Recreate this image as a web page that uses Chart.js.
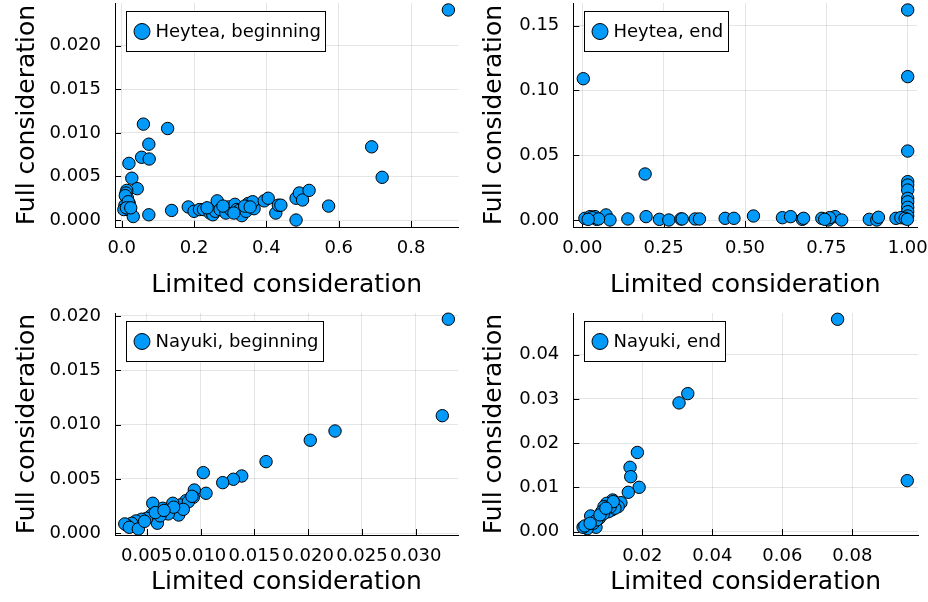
<!DOCTYPE html>
<html>
<head>
<meta charset="utf-8">
<script src="https://cdn.jsdelivr.net/npm/chart.js@4.4.1/dist/chart.umd.min.js"></script>
<style>
html, body { margin: 0; padding: 0; background: #fff; }
#wrap { position: relative; width: 928px; height: 602px; }
#wrap canvas { position: absolute; }
</style>
</head>
<body>
<div id="wrap">
  <canvas id="c1" width="464" height="301" style="left:0;top:0"></canvas>
  <canvas id="c2" width="464" height="301" style="left:464px;top:0"></canvas>
  <canvas id="c3" width="464" height="301" style="left:0;top:301px"></canvas>
  <canvas id="c4" width="464" height="301" style="left:464px;top:301px"></canvas>
</div>
<script>
// Heytea, beginning
const heyteaBeginX = [0.903, 0.060, 0.127, 0.075, 0.055, 0.076, 0.020, 0.028, 0.691, 0.720,
  0.043, 0.014, 0.012, 0.016, 0.009, 0.021, 0.006, 0.023, 0.032, 0.075,
  0.138, 0.184, 0.200, 0.215, 0.226, 0.244, 0.252, 0.259, 0.264, 0.272,
  0.288, 0.295, 0.301, 0.313, 0.318, 0.325, 0.332, 0.344, 0.350, 0.359,
  0.366, 0.362, 0.394, 0.405, 0.426, 0.433, 0.440, 0.482, 0.491, 0.500,
  0.518, 0.482, 0.572, 0.010, 0.018, 0.013, 0.025, 0.236, 0.280, 0.310, 0.340, 0.355];
const heyteaBeginY = [0.0241, 0.0110, 0.0105, 0.0087, 0.0072, 0.0070, 0.0065, 0.0048, 0.0084, 0.0049,
  0.0036, 0.0034, 0.0031, 0.0025, 0.0017, 0.0019, 0.0012, 0.0011, 0.0004, 0.0006,
  0.0011, 0.0015, 0.0010, 0.0012, 0.0012, 0.0008, 0.0006, 0.0010, 0.0022, 0.0012,
  0.0008, 0.0015, 0.0012, 0.0018, 0.0012, 0.0011, 0.0005, 0.0010, 0.0019, 0.0017,
  0.0013, 0.0021, 0.0022, 0.0025, 0.0008, 0.0017, 0.0017, 0.0025, 0.0031, 0.0023,
  0.0034, 0.0000, 0.0016, 0.0028, 0.0021, 0.0014, 0.0014, 0.0014, 0.0016, 0.0008, 0.0016, 0.0015];

// Heytea, end
const heyteaEndX = [0.003, 1.0, 1.0, 1.0, 0.193, 1.0, 1.0, 1.0, 1.0, 1.0, 1.0, 1.0, 1.0,
  0.008, 0.024, 0.039, 0.044, 0.073, 0.085, 0.140, 0.196, 0.237, 0.266,
  0.303, 0.307, 0.347, 0.360, 0.439, 0.466, 0.526, 0.615, 0.640, 0.676,
  0.736, 0.756, 0.777, 0.797, 0.882, 0.905, 0.910, 0.964, 0.979, 0.992, 0.999,
  0.030, 0.050, 0.018, 0.680, 0.760, 0.745];
const heyteaEndY = [0.109, 0.162, 0.1106, 0.0532, 0.0355, 0.0296, 0.0270, 0.0231, 0.0167, 0.0140, 0.0098, 0.0064, 0.0031,
  0.0013, 0.0026, 0.0026, 0.0005, 0.0039, 0.0000, 0.0008, 0.0026, 0.0005, 0.0000,
  0.0008, 0.0008, 0.0008, 0.0008, 0.0013, 0.0013, 0.0031, 0.0018, 0.0026, 0.0005,
  0.0013, 0.0000, 0.0026, 0.0000, 0.0005, 0.0000, 0.0021, 0.0013, 0.0018, 0.0013, 0.0005,
  0.0018, 0.0008, 0.0005, 0.0013, 0.0018, 0.0005];

// Nayuki, beginning
const nayukiBeginX = [0.03303, 0.03247, 0.0225, 0.0202, 0.01609, 0.01383, 0.01305, 0.01206, 0.01026, 0.01051,
  0.00942, 0.00933, 0.00865, 0.0081, 0.00742, 0.00726, 0.00797, 0.00679, 0.00648, 0.00556,
  0.00546, 0.00599, 0.005, 0.00453, 0.004, 0.0036, 0.00313, 0.00296, 0.00338, 0.00422,
  0.00887, 0.0084, 0.007, 0.00624, 0.0058, 0.0048, 0.0092, 0.0075, 0.0066];
const nayukiBeginY = [0.0197, 0.01082, 0.00941, 0.00856, 0.00659, 0.00527, 0.00497, 0.00466, 0.00558, 0.00368,
  0.00398, 0.00331, 0.003, 0.0026, 0.00276, 0.00214, 0.00168, 0.00199, 0.0023, 0.00276,
  0.00168, 0.00092, 0.00138, 0.00129, 0.00113, 0.00092, 0.00076, 0.00086, 0.00055, 0.0004,
  0.0029, 0.0022, 0.00178, 0.0016, 0.0019, 0.0011, 0.0034, 0.0024, 0.0021];

// Nayuki, end
const nayukiEndX = [0.0758, 0.0957, 0.0330, 0.0305, 0.0186, 0.0165, 0.0167, 0.0191, 0.0160, 0.0139,
  0.01154, 0.01126, 0.00983, 0.00906, 0.00771, 0.00526, 0.00677, 0.00429, 0.00308, 0.0103,
  0.0084, 0.006, 0.0131, 0.0122, 0.00886, 0.007, 0.0036, 0.0051, 0.0079, 0.0108,
  0.0117, 0.0096];
const nayukiEndY = [0.0480, 0.01153, 0.0312, 0.0291, 0.0179, 0.01455, 0.01243, 0.01003, 0.0089, 0.00655,
  0.00716, 0.0049, 0.0064, 0.00565, 0.00303, 0.00355, 0.001, 0.00067, 0.001, 0.0045,
  0.0045, 0.0019, 0.00565, 0.0053, 0.004, 0.00265, 0.0013, 0.0019, 0.0038, 0.0056,
  0.0068, 0.0053];

// axis limits and ticks
const heyteaBeginXRange = [-0.0185, 0.931];
const heyteaBeginYRange = [-0.0008, 0.0249];
const heyteaBeginXTicks = [0, 0.2, 0.4, 0.6, 0.8];
const heyteaBeginXLabels = ['0.0', '0.2', '0.4', '0.6', '0.8'];
const heyteaBeginYTicks = [0, 0.005, 0.010, 0.015, 0.020];
const heyteaBeginYLabels = ['0.000', '0.005', '0.010', '0.015', '0.020'];

const heyteaEndXRange = [-0.0277, 1.0295];
const heyteaEndYRange = [-0.0054, 0.1674];
const heyteaEndXTicks = [0, 0.25, 0.5, 0.75, 1.0];
const heyteaEndXLabels = ['0.00', '0.25', '0.50', '0.75', '1.00'];
const heyteaEndYTicks = [0, 0.05, 0.10, 0.15];
const heyteaEndYLabels = ['0.00', '0.05', '0.10', '0.15'];

const nayukiBeginXRange = [0.00205, 0.03393];
const nayukiBeginYRange = [-0.00016, 0.02027];
const nayukiBeginXTicks = [0.005, 0.010, 0.015, 0.020, 0.025, 0.030];
const nayukiBeginXLabels = ['0.005', '0.010', '0.015', '0.020', '0.025', '0.030'];
const nayukiBeginYTicks = [0, 0.005, 0.010, 0.015, 0.020];
const nayukiBeginYLabels = ['0.000', '0.005', '0.010', '0.015', '0.020'];

const nayukiEndXRange = [0.00029, 0.09877];
const nayukiEndYRange = [-0.00075, 0.04942];
const nayukiEndXTicks = [0.02, 0.04, 0.06, 0.08];
const nayukiEndXLabels = ['0.02', '0.04', '0.06', '0.08'];
const nayukiEndYTicks = [0, 0.01, 0.02, 0.03, 0.04];
const nayukiEndYLabels = ['0.00', '0.01', '0.02', '0.03', '0.04'];

Chart.defaults.font.family = "'DejaVu Sans', sans-serif";
Chart.defaults.color = '#000';

const BLUE = '#009AFA';

// small tick marks pointing into the plot, like the GR backend
const innerTicks = {
  id: 'innerTicks',
  beforeDatasetsDraw(chart) {
    const { ctx, chartArea, scales } = chart;
    ctx.save();
    ctx.strokeStyle = '#000';
    ctx.lineWidth = 1;
    ctx.beginPath();
    scales.x.ticks.forEach(t => {
      const px = Math.round(scales.x.getPixelForValue(t.value)) + 0.5;
      ctx.moveTo(px, chartArea.bottom);
      ctx.lineTo(px, chartArea.bottom - 6);
    });
    scales.y.ticks.forEach(t => {
      const py = Math.round(scales.y.getPixelForValue(t.value)) + 0.5;
      ctx.moveTo(chartArea.left, py);
      ctx.lineTo(chartArea.left + 6, py);
    });
    ctx.stroke();
    ctx.restore();
  }
};

// boxed legend in the top-left corner of the plot
const boxLegend = {
  id: 'boxLegend',
  afterDatasetsDraw(chart, args, opts) {
    const { ctx, chartArea } = chart;
    const label = chart.data.datasets[0].label;
    ctx.save();
    ctx.font = "18px 'DejaVu Sans', sans-serif";
    const tw = ctx.measureText(label).width;
    const bx = Math.round(chartArea.left + opts.dx) + 0.5;
    const by = Math.round(chartArea.top + opts.dy) + 0.5;
    const bw = Math.round(29 + tw + 5);
    const bh = 40;
    ctx.fillStyle = '#fff';
    ctx.fillRect(bx, by, bw, bh);
    ctx.strokeStyle = '#000';
    ctx.lineWidth = 1;
    ctx.strokeRect(bx, by, bw, bh);
    ctx.beginPath();
    ctx.arc(bx + 15.5, by + bh / 2, 8, 0, Math.PI * 2);
    ctx.fillStyle = BLUE;
    ctx.fill();
    ctx.stroke();
    ctx.fillStyle = '#000';
    ctx.textBaseline = 'middle';
    ctx.textAlign = 'left';
    ctx.fillText(label, bx + 29, by + bh / 2 + 1);
    ctx.restore();
  }
};

function makePanel(id, label, xs, ys, p) {
  const points = xs.map((x, i) => ({ x: x, y: ys[i] }));
  return new Chart(document.getElementById(id), {
    type: 'scatter',
    data: {
      datasets: [{
        label: label,
        data: points,
        backgroundColor: BLUE,
        borderColor: '#000',
        borderWidth: 1,
        pointRadius: 6.2,
        pointHoverRadius: 6.2,
        clip: false
      }]
    },
    options: {
      responsive: false,
      animation: false,
      events: [],
      layout: { autoPadding: false, padding: { left: 0, top: p.top, right: p.right, bottom: 0 } },
      plugins: {
        legend: { display: false },
        tooltip: { enabled: false },
        boxLegend: { dx: 11, dy: 8 }
      },
      scales: {
        x: {
          type: 'linear',
          min: p.xRange[0],
          max: p.xRange[1],
          afterBuildTicks: s => { s.ticks = p.xTicks.map(v => ({ value: v })); },
          afterFit: s => { s.height = p.xAxisH; s.paddingLeft = 0; s.paddingRight = 0; },
          ticks: {
            autoSkip: false, maxRotation: 0, minRotation: 0,
            padding: 10.5,
            font: { size: 18 },
            callback: (v, i) => p.xLabels[i]
          },
          grid: { color: 'rgba(0,0,0,0.1)', lineWidth: 1, drawTicks: false },
          border: { display: true, color: '#000', width: 1 },
          title: {
            display: true, text: 'Limited consideration',
            font: { size: 25 }, padding: { top: 0, bottom: p.xTitlePad }
          }
        },
        y: {
          type: 'linear',
          min: p.yRange[0],
          max: p.yRange[1],
          afterBuildTicks: s => { s.ticks = p.yTicks.map(v => ({ value: v })); },
          afterFit: s => { s.width = p.yAxisW; s.paddingTop = 0; s.paddingBottom = 0; },
          ticks: {
            autoSkip: false,
            padding: 14,
            font: { size: 18 },
            callback: (v, i) => p.yLabels[i]
          },
          grid: { color: 'rgba(0,0,0,0.1)', lineWidth: 1, drawTicks: false },
          border: { display: true, color: '#000', width: 1 },
          title: {
            display: true, text: 'Full consideration',
            font: { size: 25 }, padding: { top: p.yTitlePad, bottom: 0 }
          }
        }
      }
    },
    plugins: [innerTicks, boxLegend]
  });
}

makePanel('c1', 'Heytea, beginning', heyteaBeginX, heyteaBeginY, {
  xRange: heyteaBeginXRange, yRange: heyteaBeginYRange,
  xTicks: heyteaBeginXTicks, xLabels: heyteaBeginXLabels,
  yTicks: heyteaBeginYTicks, yLabels: heyteaBeginYLabels,
  top: 3, right: 5.5, yAxisW: 115, xAxisH: 74, xTitlePad: 1, yTitlePad: 12.5
});
makePanel('c2', 'Heytea, end', heyteaEndX, heyteaEndY, {
  xRange: heyteaEndXRange, yRange: heyteaEndYRange,
  xTicks: heyteaEndXTicks, xLabels: heyteaEndXLabels,
  yTicks: heyteaEndYTicks, yLabels: heyteaEndYLabels,
  top: 3, right: 10.7, yAxisW: 109.3, xAxisH: 74, xTitlePad: 1, yTitlePad: 15.5
});
makePanel('c3', 'Nayuki, beginning', nayukiBeginX, nayukiBeginY, {
  xRange: nayukiBeginXRange, yRange: nayukiBeginYRange,
  xTicks: nayukiBeginXTicks, xLabels: nayukiBeginXLabels,
  yTicks: nayukiBeginYTicks, yLabels: nayukiBeginYLabels,
  top: 12, right: 6, yAxisW: 115, xAxisH: 67, xTitlePad: 4.5, yTitlePad: 12.5
});
makePanel('c4', 'Nayuki, end', nayukiEndX, nayukiEndY, {
  xRange: nayukiEndXRange, yRange: nayukiEndYRange,
  xTicks: nayukiEndXTicks, xLabels: nayukiEndXLabels,
  yTicks: nayukiEndYTicks, yLabels: nayukiEndYLabels,
  top: 12, right: 10, yAxisW: 109.3, xAxisH: 67, xTitlePad: 4.5, yTitlePad: 15.5
});
</script>
</body>
</html>
